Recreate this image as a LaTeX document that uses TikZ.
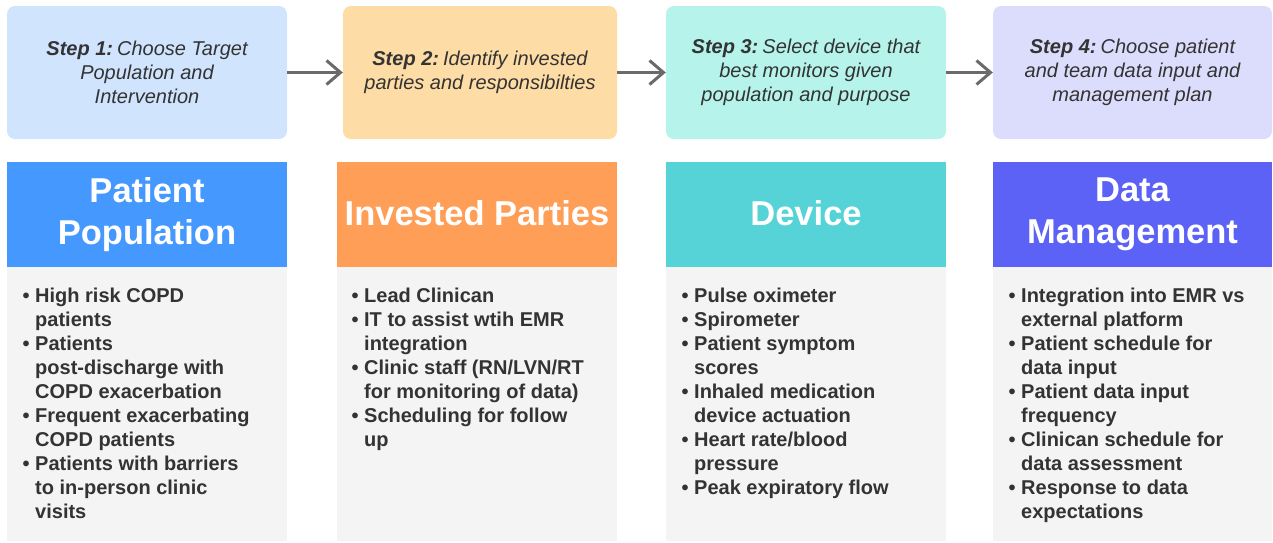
\documentclass[tikz,border=0pt]{standalone}
\usepackage{fontspec}
\setmainfont{Liberation Sans}
\usetikzlibrary{arrows.meta}
\definecolor{sa}{HTML}{D0E4FE}
\definecolor{sb}{HTML}{FEDCA6}
\definecolor{sc}{HTML}{B5F3EB}
\definecolor{sd}{HTML}{DCDCFC}
\definecolor{ha}{HTML}{4598FE}
\definecolor{hb}{HTML}{FF9E56}
\definecolor{hc}{HTML}{55D3D7}
\definecolor{hd}{HTML}{5B62F5}
\definecolor{bodyc}{HTML}{F4F4F4}
\definecolor{txt}{HTML}{333333}
\definecolor{arr}{HTML}{6A6A6A}
\newcommand{\bl}{\llap{\textbullet\ }}
\begin{document}
\begin{tikzpicture}[x=1pt,y=-1pt,
  stepbox/.style={rounded corners=8pt, minimum height=133pt, inner sep=0pt, align=center,
     font=\fontsize{20}{24}\selectfont\itshape, text=txt},
  headbox/.style={minimum height=105pt, minimum width=280pt, inner sep=0pt, align=center,
     font=\fontsize{34.5}{42}\selectfont\bfseries, text=white},
  bodybox/.style={minimum height=274pt, minimum width=280pt, inner sep=0pt, fill=bodyc},
  listtext/.style={anchor=north west, inner sep=0pt, align=left,
     font=\fontsize{20}{24}\selectfont\bfseries, text=txt},
  conn/.style={draw=arr, line width=3pt, -{Straight Barb[length=14pt,width=24pt,line width=3pt]}}
]
\useasboundingbox (0,0) rectangle (1273,542);
% step boxes
\node[stepbox, fill=sa, minimum width=280pt] (s1) at (147,72.5) {\textbf{Step 1:}\hspace{0.2em}Choose Target\\Population and\\Intervention};
\node[stepbox, fill=sb, minimum width=274pt] (s2) at (480,72.5) {\textbf{Step 2:}\hspace{0.2em}Identify invested\\parties and responsibilties};
\node[stepbox, fill=sc, minimum width=280pt] (s3) at (806,72.5) {\textbf{Step 3:}\hspace{0.2em}Select device that\\best monitors given\\population and purpose};
\node[stepbox, fill=sd, minimum width=279pt] (s4) at (1132.5,72.5) {\textbf{Step 4:}\hspace{0.2em}Choose patient\\and team data input and\\management plan};
\draw[conn] (s1.east) -- (s2.west);
\draw[conn] (s2.east) -- (s3.west);
\draw[conn] (s3.east) -- (s4.west);
% body boxes
\node[bodybox] (b1) at (147,404) {};
\node[bodybox] (b2) at (477,404) {};
\node[bodybox] (b3) at (806,404) {};
\node[bodybox, minimum width=279pt] (b4) at (1132.5,404) {};
% headers
\node[headbox, fill=ha] (h1) at (147,214.5) {Patient\\Population};
\node[headbox, fill=hb] (h2) at (477,214.5) {\raisebox{3pt}{Invested Parties}};
\node[headbox, fill=hc] (h3) at (806,214.5) {\raisebox{3pt}{Device}};
\node[headbox, fill=hd, minimum width=279pt] (h4) at (1132.5,214.5) {Data\\Management};
% lists
\node[listtext] (t1) at (35,288) {\bl High risk COPD\\patients\\\bl Patients\\post-discharge with\\COPD exacerbation\\\bl Frequent exacerbating\\COPD patients\\\bl Patients with barriers\\to in-person clinic\\visits};
\node[listtext] (t2) at (364,288) {\bl Lead Clinican\\\bl IT to assist wtih EMR\\integration\\\bl Clinic staff (RN/LVN/RT\\for monitoring of data)\\\bl Scheduling for follow\\up};
\node[listtext] (t3) at (694,288) {\bl Pulse oximeter\\\bl Spirometer\\\bl Patient symptom\\scores\\\bl Inhaled medication\\device actuation\\\bl Heart rate/blood\\pressure\\\bl Peak expiratory flow};
\node[listtext] (t4) at (1021,288) {\bl Integration into EMR vs\\external platform\\\bl Patient schedule for\\data input\\\bl Patient data input\\frequency\\\bl Clinican schedule for\\data assessment\\\bl Response to data\\expectations};
\end{tikzpicture}
\end{document}
